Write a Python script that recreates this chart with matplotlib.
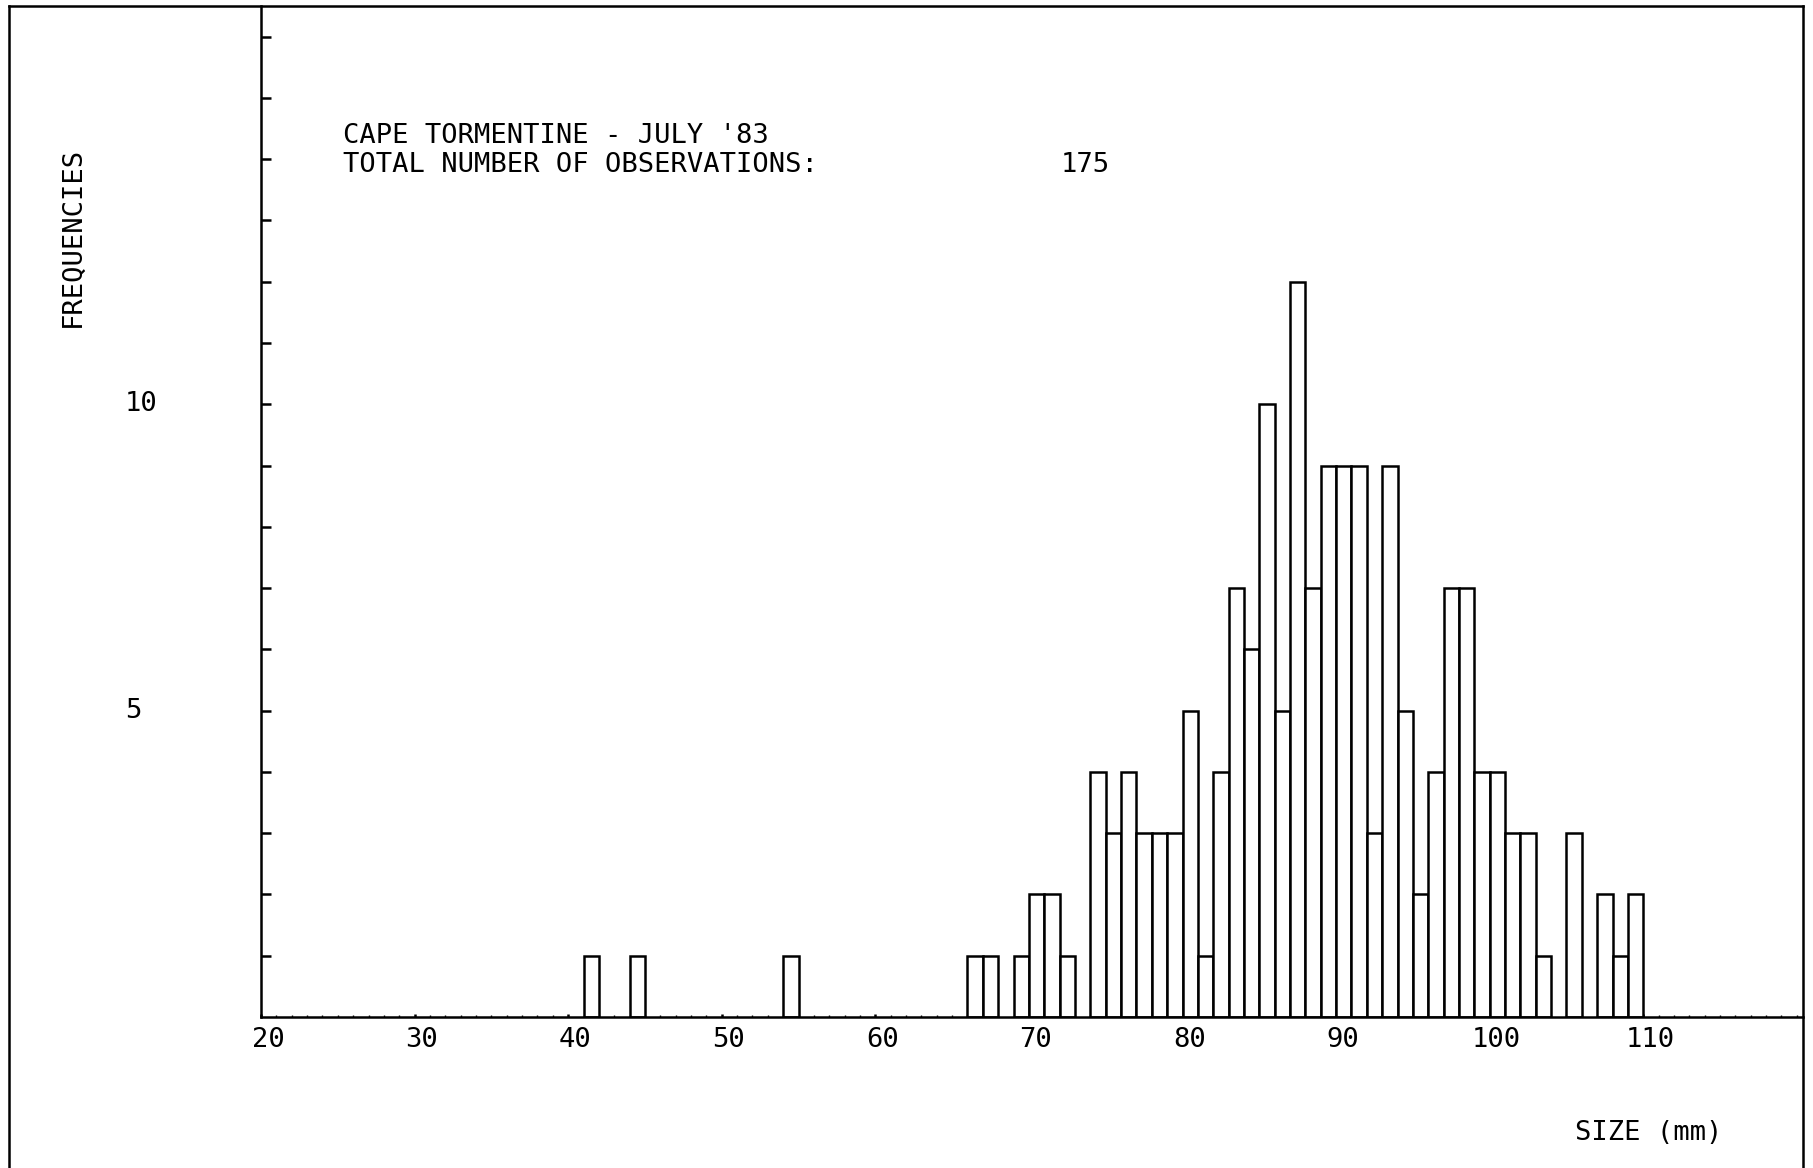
import matplotlib
matplotlib.use("Agg")
import matplotlib.pyplot as plt
from matplotlib.lines import Line2D
import matplotlib.transforms as mtransforms

# Data: size class (mm, left edge of 1 mm bin) and frequency
sizes = [41, 44, 54, 66, 67, 69, 70, 71, 72,
         74, 75, 76, 77, 78, 79, 80, 81, 82, 83, 84,
         85, 86, 87, 88, 89, 90, 91, 92, 93, 94,
         95, 96, 97, 98, 99, 100, 101, 102, 103,
         105, 107, 108, 109]
freqs = [1, 1, 1, 1, 1, 1, 2, 2, 1,
         4, 3, 4, 3, 3, 3, 5, 1, 4, 7, 6,
         10, 5, 12, 7, 9, 9, 9, 3, 9, 5,
         2, 4, 7, 7, 4, 4, 3, 3, 1,
         3, 2, 1, 2]
x_ticks = [20, 30, 40, 50, 60, 70, 80, 90, 100, 110]
x_ticklabels = ["20", "30", "40", "50", "60", "70", "80", "90", "100", "110"]
y_labeled = [5, 10]
title_line1 = "CAPE TORMENTINE - JULY '83"
title_line2 = "TOTAL NUMBER OF OBSERVATIONS:"
total_obs = "175"

W, H = 1813, 1168
fig = plt.figure(figsize=(W / 100, H / 100), dpi=100)
FONT = "DejaVu Sans Mono"
FS = 19.5
LW = 1.8

# axes geometry in pixels
ax_left, ax_right, ax_bottom, ax_top = 261, 1803, 1017, 6
ax = fig.add_axes([ax_left / W, (H - ax_bottom) / H,
                   (ax_right - ax_left) / W, (ax_bottom - ax_top) / H])
ax.set_xlim(20, 120.4)
ax.set_ylim(0, 16.5)

ax.bar(sizes, freqs, width=1, align="edge", facecolor="white",
       edgecolor="black", linewidth=LW, zorder=3)

for s in ["top", "right"]:
    ax.spines[s].set_visible(False)
for s in ["left", "bottom"]:
    ax.spines[s].set_linewidth(LW)
    ax.spines[s].set_zorder(4)

# y ticks: every unit, inward, no tick labels (labels drawn separately)
ax.set_yticks(range(1, 17))
ax.set_yticklabels([])
ax.tick_params(axis="y", direction="in", length=7, width=LW, left=True)

# x ticks: tiny dots at every unit
ax.set_xticks(x_ticks)
ax.set_xticklabels([])
ax.set_xticks(range(20, 121), minor=True)
ax.tick_params(axis="x", which="major", direction="in", length=2.5, width=LW)
ax.tick_params(axis="x", which="minor", direction="in", length=1.2, width=1.0)

# x tick labels, slightly right of the ticks as on the plotter
offset = mtransforms.ScaledTranslation(7 / 100, 0, fig.dpi_scale_trans)
xtrans = mtransforms.blended_transform_factory(ax.transData, fig.transFigure) + offset
for xv, lab in zip(x_ticks, x_ticklabels):
    ax.text(xv, (H - 1040) / H, lab, transform=xtrans, ha="center", va="center",
            fontsize=FS, family=FONT)

# y labels at 5 and 10, left aligned far left
ytrans = mtransforms.blended_transform_factory(fig.transFigure, ax.transData)
for yv in y_labeled:
    ax.text(125 / W, yv, str(yv), transform=ytrans, ha="left", va="center",
            fontsize=FS, family=FONT)

# axis titles
fig.text(73 / W, 1 - 237 / H, "FREQUENCIES", rotation=90, ha="center", va="center",
         fontsize=FS, family=FONT)
fig.text(1575 / W, 1 - 1133 / H, "SIZE (mm)", ha="left", va="center",
         fontsize=FS, family=FONT)

# header text
fig.text(343 / W, 1 - 136 / H, title_line1, ha="left", va="center",
         fontsize=FS, family=FONT)
fig.text(343 / W, 1 - 165 / H, title_line2, ha="left", va="center",
         fontsize=FS, family=FONT)
fig.text(1061 / W, 1 - 165 / H, total_obs, ha="left", va="center",
         fontsize=FS, family=FONT)

# outer frame (left, top, right; open at bottom)
fx0, fx1, fy_top = 9 / W, 1803 / W, 1 - 6 / H
fig.add_artist(Line2D([fx0, fx0], [0, fy_top], color="black", lw=LW,
                      transform=fig.transFigure))
fig.add_artist(Line2D([fx0, fx1], [fy_top, fy_top], color="black", lw=LW,
                      transform=fig.transFigure))
fig.add_artist(Line2D([fx1, fx1], [0, fy_top], color="black", lw=LW,
                      transform=fig.transFigure))

fig.savefig("out.png", dpi=100, facecolor="white")
